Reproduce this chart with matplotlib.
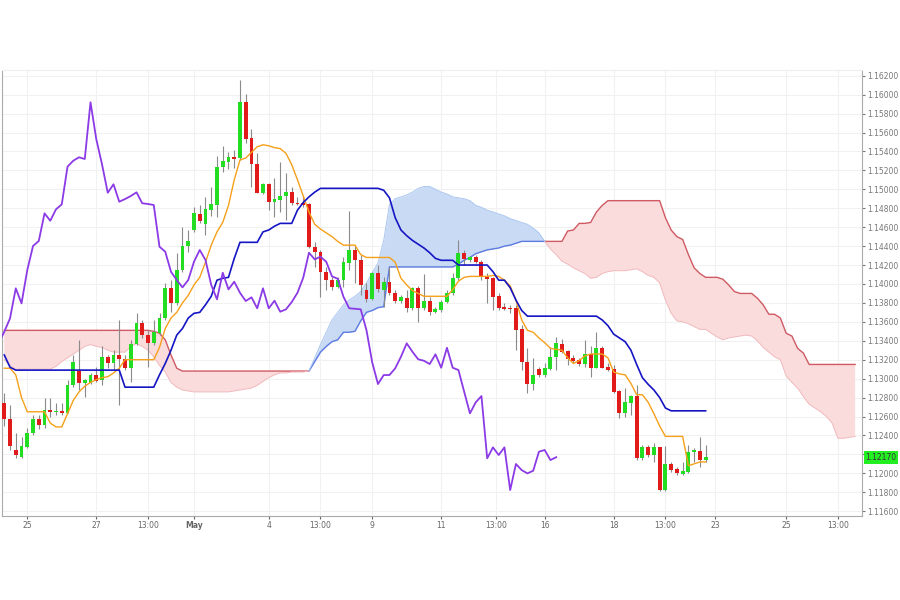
import numpy as np
import matplotlib.pyplot as plt
from matplotlib.ticker import FormatStrFormatter

# 4h candles (index 0 = first candle on screen)
opens = [1.12745, 1.12576, 1.12246, 1.12175, 1.12280, 1.12422, 1.12570, 1.12510, 1.12668, 1.12647,
         1.12661, 1.12640, 1.12932, 1.13083, 1.12953, 1.12957, 1.13038, 1.12985, 1.13225, 1.13162,
         1.13249, 1.13204, 1.13109, 1.13365, 1.13590, 1.13460, 1.13373, 1.13479, 1.13637, 1.13954,
         1.13795, 1.14147, 1.14404, 1.14570, 1.14739, 1.14633, 1.14781, 1.14834, 1.15232, 1.15291,
         1.15338, 1.15327, 1.15919, 1.15539, 1.15267, 1.14958, 1.15053, 1.14869, 1.14887, 1.14929,
         1.14968, 1.14858, 1.14858, 1.14845, 1.14393, 1.14341, 1.14129, 1.14042, 1.13971, 1.14042,
         1.14224, 1.14359, 1.14253, 1.13936, 1.13838, 1.14119, 1.13936, 1.14024, 1.13907, 1.13823,
         1.13848, 1.13743, 1.13954, 1.13743, 1.13823, 1.13700, 1.13725, 1.13806, 1.13901, 1.14060,
         1.14330, 1.14253, 1.14288, 1.14237, 1.14084, 1.14060, 1.13873, 1.13753, 1.13746, 1.13743,
         1.13521, 1.13178, 1.12943, 1.13098, 1.13038, 1.13101, 1.13225, 1.13365, 1.13291, 1.13214,
         1.13196, 1.13154, 1.13257, 1.13115, 1.13326, 1.13122, 1.13098, 1.12869, 1.12633, 1.12745,
         1.12816, 1.12158, 1.12274, 1.12193, 1.12274, 1.11823, 1.12098, 1.12042, 1.11989, 1.12016,
         1.12221, 1.12238, 1.12140]
highs = [1.12845, 1.12721, 1.12425, 1.12386, 1.12478, 1.12615, 1.12615, 1.12792, 1.12792, 1.12739,
         1.12739, 1.12985, 1.13249, 1.13408, 1.12996, 1.13062, 1.13126, 1.13344, 1.13249, 1.13302,
         1.13619, 1.13249, 1.13408, 1.13690, 1.13619, 1.13513, 1.13619, 1.13690, 1.14007, 1.14042,
         1.14327, 1.14605, 1.14570, 1.14816, 1.14834, 1.14922, 1.15024, 1.15352, 1.15457, 1.15397,
         1.15415, 1.16155, 1.16004, 1.15634, 1.15380, 1.15063, 1.15063, 1.15116, 1.15291, 1.15169,
         1.15027, 1.14922, 1.14929, 1.14852, 1.14446, 1.14359, 1.14182, 1.14076, 1.14076, 1.14288,
         1.14774, 1.14411, 1.14306, 1.14007, 1.14129, 1.14200, 1.14076, 1.14182, 1.13936, 1.13883,
         1.13936, 1.13971, 1.13978, 1.14102, 1.13865, 1.13760, 1.13830, 1.13936, 1.14112, 1.14464,
         1.14359, 1.14295, 1.14306, 1.14253, 1.14112, 1.14076, 1.13901, 1.13795, 1.13777, 1.13777,
         1.13566, 1.13320, 1.13214, 1.13126, 1.13162, 1.13331, 1.13436, 1.13415, 1.13302, 1.13249,
         1.13214, 1.13408, 1.13344, 1.13495, 1.13344, 1.13162, 1.13144, 1.12879, 1.12897, 1.12827,
         1.12932, 1.12298, 1.12298, 1.12316, 1.12280, 1.12288, 1.12122, 1.12069, 1.12122, 1.12298,
         1.12263, 1.12380, 1.12298]
lows = [1.12502, 1.12246, 1.12161, 1.12161, 1.12267, 1.12404, 1.12464, 1.12475, 1.12597, 1.12615,
        1.12615, 1.12633, 1.12914, 1.12879, 1.12809, 1.12943, 1.12967, 1.12932, 1.13109, 1.13091,
        1.12721, 1.13091, 1.12967, 1.13355, 1.13426, 1.13122, 1.13355, 1.13460, 1.13619, 1.13707,
        1.13777, 1.14129, 1.14341, 1.14552, 1.14641, 1.14517, 1.14718, 1.14710, 1.15186, 1.15211,
        1.15222, 1.15309, 1.15486, 1.15027, 1.14958, 1.14950, 1.14781, 1.14710, 1.14763, 1.14675,
        1.14834, 1.14834, 1.14816, 1.14377, 1.14182, 1.13865, 1.13936, 1.13936, 1.13954, 1.13971,
        1.14147, 1.14007, 1.13883, 1.13812, 1.13830, 1.13918, 1.13760, 1.13883, 1.13795, 1.13795,
        1.13707, 1.13725, 1.13601, 1.13725, 1.13672, 1.13690, 1.13707, 1.13795, 1.13883, 1.14042,
        1.14200, 1.14235, 1.14218, 1.14042, 1.13795, 1.13725, 1.13725, 1.13725, 1.13690, 1.13302,
        1.13091, 1.12845, 1.12879, 1.13020, 1.13020, 1.13091, 1.13091, 1.13267, 1.13144, 1.13162,
        1.13133, 1.13126, 1.13020, 1.13109, 1.13109, 1.13083, 1.12845, 1.12580, 1.12597, 1.12615,
        1.12140, 1.12140, 1.12175, 1.12122, 1.11815, 1.11815, 1.12016, 1.11981, 1.11981, 1.11999,
        1.12122, 1.12069, 1.12122]
closes = [1.12570, 1.12288, 1.12193, 1.12288, 1.12428, 1.12570, 1.12510, 1.12668, 1.12650, 1.12655,
          1.12640, 1.12932, 1.13178, 1.12957, 1.12985, 1.13038, 1.12978, 1.13225, 1.13162, 1.13249,
          1.13204, 1.13109, 1.13365, 1.13590, 1.13460, 1.13373, 1.13495, 1.13637, 1.13954, 1.13795,
          1.14147, 1.14401, 1.14454, 1.14746, 1.14668, 1.14789, 1.14841, 1.15239, 1.15302, 1.15338,
          1.15320, 1.15919, 1.15531, 1.15264, 1.14964, 1.15053, 1.14869, 1.14897, 1.14929, 1.14968,
          1.14852, 1.14845, 1.14834, 1.14393, 1.14341, 1.14129, 1.14042, 1.13964, 1.14042, 1.14235,
          1.14359, 1.14253, 1.13989, 1.13838, 1.14119, 1.13943, 1.14024, 1.13907, 1.13820, 1.13859,
          1.13743, 1.13954, 1.13743, 1.13823, 1.13707, 1.13732, 1.13809, 1.13907, 1.14066, 1.14330,
          1.14260, 1.14288, 1.14235, 1.14081, 1.14055, 1.13865, 1.13743, 1.13738, 1.13732, 1.13513,
          1.13172, 1.12943, 1.13038, 1.13038, 1.13109, 1.13231, 1.13373, 1.13284, 1.13204, 1.13189,
          1.13154, 1.13257, 1.13115, 1.13326, 1.13115, 1.13091, 1.12861, 1.12633, 1.12749, 1.12816,
          1.12158, 1.12274, 1.12193, 1.12274, 1.11823, 1.12098, 1.12034, 1.11999, 1.12027, 1.12228,
          1.12246, 1.12140, 1.12170]

# tenkan-sen (orange)
tenkan = [1.1311, 1.1311, 1.1304, 1.1280, 1.1265, 1.1265, 1.1265, 1.1265, 1.1253, 1.1249,
          1.1249, 1.1263, 1.1277, 1.1286, 1.1292, 1.1296, 1.1299, 1.1301, 1.1302, 1.1306,
          1.1311, 1.1320, 1.1320, 1.1320, 1.1320, 1.1320, 1.1320, 1.1333, 1.1353, 1.1364,
          1.1370, 1.1380, 1.1388, 1.1399, 1.1407, 1.1423, 1.1441, 1.1455, 1.1465, 1.1483,
          1.1510, 1.1531, 1.1533, 1.1539, 1.1545, 1.1547, 1.1546, 1.1544, 1.1543, 1.1538,
          1.1526, 1.1510, 1.1493, 1.1476, 1.1463, 1.1458, 1.1454, 1.1450, 1.1445, 1.1441,
          1.1441, 1.1441, 1.1431, 1.1428, 1.1428, 1.1428, 1.1428, 1.1428, 1.1423, 1.1406,
          1.1399, 1.1393, 1.1390, 1.1387, 1.1387, 1.1387, 1.1387, 1.1387, 1.1394, 1.1403,
          1.1407, 1.1408, 1.1408, 1.1408, 1.1408, 1.1409, 1.1408, 1.1404, 1.1398, 1.1383,
          1.1362, 1.1351, 1.1349, 1.1343, 1.1338, 1.1332, 1.1331, 1.1330, 1.1322, 1.1316,
          1.1319, 1.1324, 1.1326, 1.1326, 1.1326, 1.1322, 1.1307, 1.1305, 1.1304, 1.1295,
          1.1283, 1.1283, 1.1275, 1.1263, 1.1250, 1.1239, 1.1239, 1.1239, 1.1239, 1.1208,
          1.1210, 1.1212, 1.1212]

# kijun-sen (blue)
kijun = [1.1325, 1.1312, 1.1309, 1.1309, 1.1309, 1.1309, 1.1309, 1.1309, 1.1309, 1.1309,
         1.1309, 1.1309, 1.1309, 1.1309, 1.1309, 1.1309, 1.1309, 1.1309, 1.1309, 1.1309,
         1.1309, 1.1291, 1.1291, 1.1291, 1.1291, 1.1291, 1.1291, 1.1304, 1.1316, 1.1330,
         1.1346, 1.1353, 1.1364, 1.1369, 1.1370, 1.1378, 1.1387, 1.1404, 1.1406, 1.1407,
         1.1427, 1.1444, 1.1444, 1.1444, 1.1444, 1.1455, 1.1457, 1.1461, 1.1464, 1.1464,
         1.1464, 1.1478, 1.1486, 1.1492, 1.1497, 1.1501, 1.1501, 1.1501, 1.1501, 1.1501,
         1.1501, 1.1501, 1.1501, 1.1501, 1.1501, 1.1501, 1.1499, 1.1491, 1.1470, 1.1457,
         1.1451, 1.1446, 1.1442, 1.1438, 1.1433, 1.1427, 1.1425, 1.1425, 1.1425, 1.1420,
         1.1420, 1.1420, 1.1420, 1.1420, 1.1420, 1.1413, 1.1404, 1.1404, 1.1396, 1.1383,
         1.1372, 1.1366, 1.1366, 1.1366, 1.1366, 1.1366, 1.1366, 1.1366, 1.1366, 1.1366,
         1.1366, 1.1366, 1.1366, 1.1366, 1.1362, 1.1356, 1.1347, 1.1343, 1.1339, 1.1330,
         1.1315, 1.1301, 1.1294, 1.1288, 1.1280, 1.1269, 1.1266, 1.1266, 1.1266, 1.1266,
         1.1266, 1.1266, 1.1266]

# senkou span A / B, already displaced 26 bars forward (149 points)
senkou_a = [1.1320, 1.1314, 1.1310, 1.1310, 1.1310, 1.1310, 1.1310, 1.1310, 1.1310, 1.1313,
            1.1318, 1.1322, 1.1326, 1.1330, 1.1334, 1.1336, 1.1334, 1.1333, 1.1330, 1.1328,
            1.1328, 1.1328, 1.1334, 1.1337, 1.1334, 1.1330, 1.1323, 1.1314, 1.1307, 1.1296,
            1.1291, 1.1288, 1.1287, 1.1286, 1.1286, 1.1286, 1.1286, 1.1286, 1.1286, 1.1286,
            1.1287, 1.1288, 1.1289, 1.1290, 1.1293, 1.1297, 1.1301, 1.1304, 1.1306, 1.1306,
            1.1307, 1.1307, 1.1307, 1.1308, 1.1322, 1.1336, 1.1349, 1.1362, 1.1370, 1.1378,
            1.1383, 1.1387, 1.1392, 1.1401, 1.1412, 1.1422, 1.1446, 1.1484, 1.1490, 1.1492,
            1.1494, 1.1497, 1.1501, 1.1503, 1.1503, 1.1500, 1.1497, 1.1495, 1.1492, 1.1491,
            1.1490, 1.1488, 1.1483, 1.1481, 1.1478, 1.1476, 1.1474, 1.1472, 1.1469, 1.1467,
            1.1465, 1.1463, 1.1459, 1.1454, 1.1445, 1.1437, 1.1431, 1.1424, 1.1421, 1.1417,
            1.1414, 1.1411, 1.1406, 1.1407, 1.1411, 1.1413, 1.1414, 1.1414, 1.1414, 1.1415,
            1.1416, 1.1413, 1.1409, 1.1407, 1.1401, 1.1383, 1.1369, 1.1361, 1.1360, 1.1358,
            1.1355, 1.1352, 1.1352, 1.1348, 1.1344, 1.1341, 1.1343, 1.1344, 1.1345, 1.1346,
            1.1345, 1.1340, 1.1333, 1.1328, 1.1323, 1.1320, 1.1303, 1.1296, 1.1290, 1.1281,
            1.1273, 1.1269, 1.1265, 1.1260, 1.1253, 1.1237, 1.1237, 1.1238, 1.1239]
senkou_b = [1.1351, 1.1351, 1.1351, 1.1351, 1.1351, 1.1351, 1.1351, 1.1351, 1.1351, 1.1351,
            1.1351, 1.1351, 1.1351, 1.1351, 1.1351, 1.1351, 1.1351, 1.1351, 1.1351, 1.1351,
            1.1351, 1.1351, 1.1351, 1.1351, 1.1351, 1.1351, 1.1350, 1.1348, 1.1341, 1.1325,
            1.1311, 1.1308, 1.1308, 1.1308, 1.1308, 1.1308, 1.1308, 1.1308, 1.1308, 1.1308,
            1.1308, 1.1308, 1.1308, 1.1308, 1.1308, 1.1308, 1.1308, 1.1308, 1.1308, 1.1308,
            1.1308, 1.1308, 1.1308, 1.1308, 1.1318, 1.1328, 1.1334, 1.1339, 1.1341, 1.1349,
            1.1349, 1.1350, 1.1361, 1.1370, 1.1372, 1.1375, 1.1376, 1.1418, 1.1418, 1.1418,
            1.1418, 1.1418, 1.1418, 1.1418, 1.1418, 1.1418, 1.1418, 1.1418, 1.1418, 1.1421,
            1.1425, 1.1428, 1.1432, 1.1434, 1.1436, 1.1437, 1.1438, 1.1440, 1.1441, 1.1443,
            1.1445, 1.1445, 1.1445, 1.1445, 1.1445, 1.1445, 1.1445, 1.1445, 1.1456, 1.1457,
            1.1464, 1.1464, 1.1465, 1.1476, 1.1483, 1.1488, 1.1488, 1.1488, 1.1488, 1.1488,
            1.1488, 1.1488, 1.1488, 1.1488, 1.1488, 1.1470, 1.1457, 1.1450, 1.1447, 1.1431,
            1.1417, 1.1411, 1.1407, 1.1407, 1.1407, 1.1405, 1.1399, 1.1392, 1.1390, 1.1390,
            1.1390, 1.1385, 1.1378, 1.1368, 1.1368, 1.1364, 1.1348, 1.1345, 1.1332, 1.1327,
            1.1315, 1.1315, 1.1315, 1.1315, 1.1315, 1.1315, 1.1315, 1.1315, 1.1315]

tick_pos = [4, 16, 25, 33, 46, 55, 64, 76, 85.5, 94, 106, 115, 123.7, 136, 145]
tick_lab = ['25', '27', '13:00', 'May', '4', '13:00', '9', '11', '13:00', '16', '18',
            '13:00', '23', '25', '13:00']
last_price = 1.12170
shift = 26

fig = plt.figure(figsize=(9, 6), dpi=100)
ax = fig.add_axes([0.0022, 0.14, 0.9556, 0.7433])

# cloud
xc = np.arange(len(senkou_a))
a = np.array(senkou_a)
b = np.array(senkou_b)
ax.fill_between(xc, a, b, where=b >= a, interpolate=True, color='#fadcdd', lw=0, zorder=1)
ax.fill_between(xc, a, b, where=a >= b, interpolate=True, color='#c9dbf4', lw=0, zorder=1)
ax.plot(xc, np.where(b >= a, b, np.nan), color='#cf5a63', lw=1.0, zorder=2)
ax.plot(xc, np.where(a >= b, b, np.nan), color='#5d7be0', lw=1.0, zorder=2)
ax.plot(xc, np.where(b >= a, a, np.nan), color='#f1b9bc', lw=0.7, zorder=2)
ax.plot(xc, np.where(a >= b, a, np.nan), color='#aac6f0', lw=0.7, zorder=2)

# candles
o = np.array(opens)
h = np.array(highs)
l = np.array(lows)
c = np.array(closes)
xs = np.arange(len(c))
up = c >= o
ax.vlines(xs, l, h, color='#8a8a8a', lw=0.8, zorder=3)
body_h = np.maximum(np.abs(c - o), 0.00003)
ax.bar(xs, body_h, bottom=np.minimum(o, c), width=0.68,
       color=np.where(up, '#22dd22', '#e11a1a'), linewidth=0, zorder=4)

# lines
ax.plot(xs, tenkan, color='#f5a01a', lw=1.0, zorder=5)
ax.plot(xs, kijun, color='#1515c4', lw=1.2, zorder=5)
ax.plot(np.arange(-1, len(c) - shift), c[shift - 1:], color='#8b3ae6', lw=1.3, zorder=6)

ax.set_xlim(-0.4, 149.2)
ax.set_ylim(1.11549, 1.16260)

ax.yaxis.tick_right()
ax.set_yticks(np.round(np.arange(1.116, 1.1621, 0.002), 3))
ax.yaxis.set_major_formatter(FormatStrFormatter('%.5f'))
ax.tick_params(axis='y', labelsize=5.5, colors='#777777', length=2, pad=1.5)
ax.set_xticks(tick_pos)
ax.set_xticklabels(tick_lab)
ax.tick_params(axis='x', labelsize=5.5, colors='#666666', length=2, pad=1.5)
ax.get_xticklabels()[3].set_fontweight('bold')

ax.grid(True, color='#f1f1f1', lw=0.8)
ax.set_axisbelow(True)
for side in ['left', 'right', 'bottom']:
    ax.spines[side].set_color('#aaaaaa')
ax.spines['top'].set_color('#eeeeee')

ax.text(1.004, last_price, '%.5f' % last_price, transform=ax.get_yaxis_transform(),
        fontsize=5.5, color='#333333', va='center', ha='left', zorder=10, clip_on=False,
        bbox=dict(boxstyle='square,pad=0.25', fc='#22ee22', ec='none'))

fig.savefig('out.png', dpi=100)
